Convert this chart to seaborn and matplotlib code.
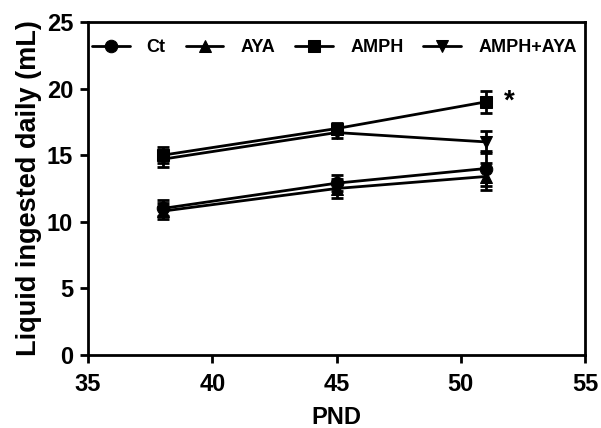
import matplotlib
matplotlib.use("Agg")
import matplotlib.pyplot as plt
import seaborn as sns
import pandas as pd
import numpy as np

pnd = [38, 45, 51]
groups = ["Ct", "AYA", "AMPH", "AMPH+AYA"]
ct_mean = [11.0, 12.9, 14.0]
ct_err = [0.6, 0.6, 1.3]
aya_mean = [10.8, 12.5, 13.4]
aya_err = [0.6, 0.7, 1.0]
amph_mean = [15.0, 17.0, 19.0]
amph_err = [0.6, 0.4, 0.8]
amphaya_mean = [14.7, 16.7, 16.0]
amphaya_err = [0.6, 0.4, 0.8]
markers_list = ["o", "^", "s", "v"]
xticks = [35, 40, 45, 50, 55]
yticks = [0, 5, 10, 15, 20, 25]

means = [ct_mean, aya_mean, amph_mean, amphaya_mean]
errs = [ct_err, aya_err, amph_err, amphaya_err]

rows = []
for g, m in zip(groups, means):
    for x, v in zip(pnd, m):
        rows.append({"PND": x, "value": v, "group": g})
df = pd.DataFrame(rows)

sns.set_style("ticks")
plt.rcParams["font.family"] = ["Liberation Sans", "DejaVu Sans"]
plt.rcParams["font.weight"] = "bold"
plt.rcParams["text.color"] = "black"
plt.rcParams["axes.labelcolor"] = "black"
plt.rcParams["xtick.color"] = "black"
plt.rcParams["ytick.color"] = "black"

fig = plt.figure(figsize=(6.01, 4.28), dpi=100)
ax = fig.add_axes([88 / 601, 1 - 355 / 428, (585 - 88) / 601, (355 - 22) / 428])

for g, m, e in zip(groups, means, errs):
    ax.errorbar(pnd, m, yerr=e, fmt="none", ecolor="black", elinewidth=2,
                capsize=4.5, capthick=2, zorder=2)

sns.lineplot(data=df, x="PND", y="value", hue="group", style="group",
             hue_order=groups, style_order=groups,
             palette=["black"] * 4, markers=dict(zip(groups, markers_list)),
             dashes=False, linewidth=2, markersize=9, markeredgecolor="black",
             ax=ax, zorder=3)

ax.set_xlim(35, 55)
ax.set_ylim(0, 25)
ax.set_xticks(xticks)
ax.set_yticks(yticks)
ax.set_xlabel("PND", fontsize=17, fontweight="bold", labelpad=7.5, color="black")
ax.set_ylabel("Liquid ingested daily (mL)", fontsize=19.5, fontweight="bold",
              labelpad=3, color="black")
for s in ax.spines.values():
    s.set_linewidth(2)
    s.set_color("black")
    s.set_visible(True)
ax.tick_params(axis="both", direction="out", length=5.8, width=2, labelsize=17,
               colors="black", pad=5)
ax.tick_params(axis="x", pad=7)
for lab in ax.get_xticklabels() + ax.get_yticklabels():
    lab.set_fontweight("bold")

ax.text(51.75, 19.0, "*", fontsize=20, fontweight="bold", ha="left", va="center")

leg = ax.legend(loc="upper left", bbox_to_anchor=(0.0, 0.96), ncol=4, frameon=False,
                fontsize=13, handlelength=2.1, columnspacing=1.1, handletextpad=0.95,
                borderaxespad=0.0, borderpad=0.2, markerscale=1.0)
for t in leg.get_texts():
    t.set_fontweight("bold")
    t.set_color("black")

fig.savefig("out.png", dpi=100)
